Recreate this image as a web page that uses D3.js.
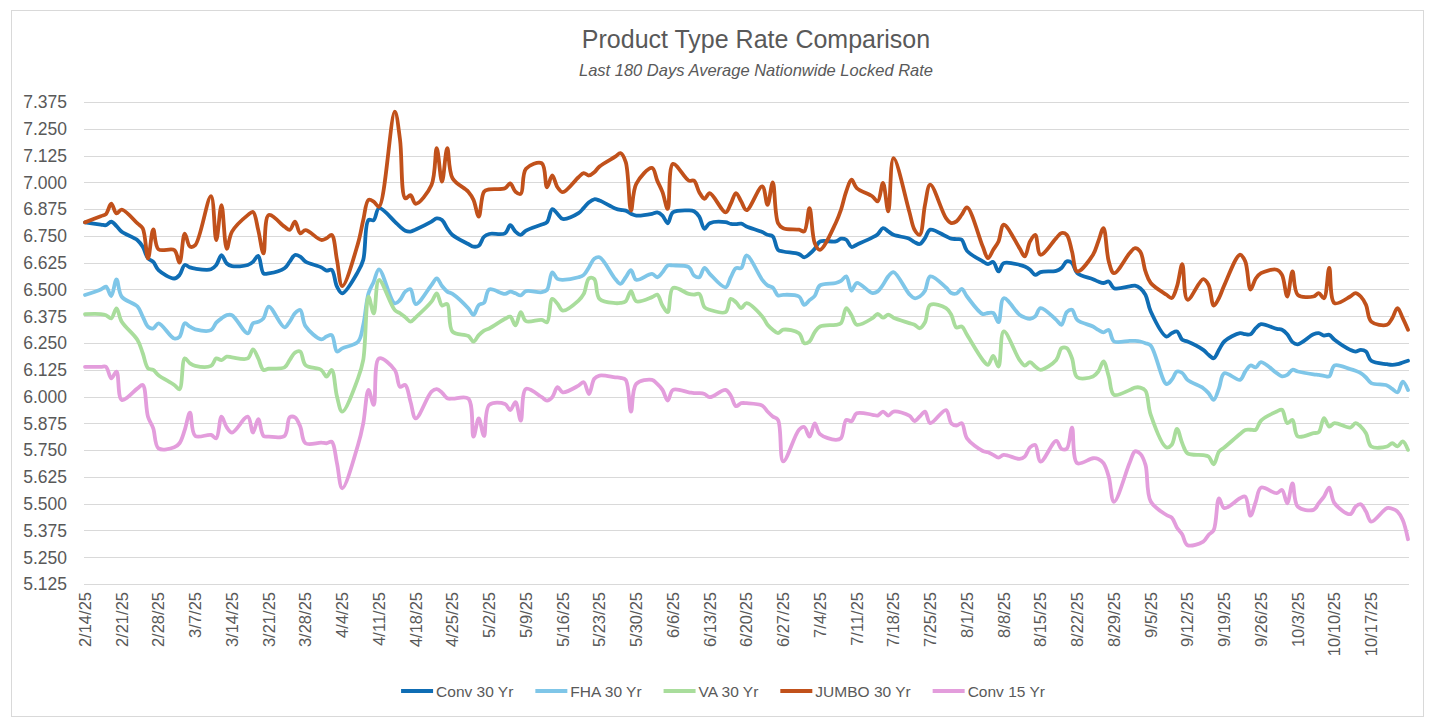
<!DOCTYPE html>
<html lang="en">
<head>
<meta charset="UTF-8">
<title>Product Type Rate Comparison</title>
<script src="https://d3js.org/d3.v7.min.js"></script>
<style>
  body { margin: 0; background: #fff; }
  text { font-family: "Liberation Sans", Arial, sans-serif; fill: #595959; }
</style>
</head>
<body>
<div id="chart"></div>
<script>
// Date range of the daily (business day) series
const firstDay = "2025-02-14";
const lastDay = "2025-10-24";

// Weekly axis labels
const xTickLabels = ["2/14/25", "2/21/25", "2/28/25", "3/7/25", "3/14/25", "3/21/25", "3/28/25",
  "4/4/25", "4/11/25", "4/18/25", "4/25/25", "5/2/25", "5/9/25", "5/16/25", "5/23/25", "5/30/25",
  "6/6/25", "6/13/25", "6/20/25", "6/27/25", "7/4/25", "7/11/25", "7/18/25", "7/25/25", "8/1/25",
  "8/8/25", "8/15/25", "8/22/25", "8/29/25", "9/5/25", "9/12/25", "9/19/25", "9/26/25", "10/3/25",
  "10/10/25", "10/17/25"];

const yTicks = [5.125, 5.25, 5.375, 5.5, 5.625, 5.75, 5.875, 6.0, 6.125, 6.25, 6.375,
  6.5, 6.625, 6.75, 6.875, 7.0, 7.125, 7.25, 7.375];

const seriesNames = ["Conv 30 Yr", "FHA 30 Yr", "VA 30 Yr", "JUMBO 30 Yr", "Conv 15 Yr"];
const seriesColors = ["#0f6db4", "#7fc6e8", "#a9dd9c", "#c1511b", "#e39ddc"];

// One value per business day, 2/14 then Mon..Fri for each week
const conv30 = [6.813,
  6.803, 6.800, 6.816, 6.796, 6.769,
  6.730, 6.699, 6.645, 6.629, 6.590,
  6.551, 6.567, 6.614, 6.603, 6.597,
  6.594, 6.614, 6.660, 6.621, 6.609,
  6.614, 6.629, 6.657, 6.575, 6.575,
  6.599, 6.630, 6.661, 6.653, 6.630,
  6.603, 6.588, 6.591, 6.513, 6.482,
  6.583, 6.638, 6.824, 6.824, 6.879,
  6.817, 6.793, 6.774, 6.770, 6.780,
  6.817, 6.832, 6.824, 6.785, 6.754,
  6.712, 6.700, 6.704, 6.746, 6.759,
  6.762, 6.800, 6.770, 6.755, 6.775,
  6.803, 6.814, 6.875, 6.853, 6.829,
  6.856, 6.881, 6.907, 6.921, 6.915,
  6.878, 6.871, 6.868, 6.853, 6.845,
  6.853, 6.860, 6.845, 6.809, 6.860,
  6.869, 6.865, 6.840, 6.783, 6.809,
  6.814, 6.806, 6.805, 6.807, 6.794,
  6.768, 6.755, 6.748, 6.685, 6.677,
  6.665, 6.650, 6.665, 6.690, 6.724,
  6.724, 6.737, 6.732, 6.698, 6.709,
  6.743, 6.758, 6.786, 6.771, 6.755,
  6.737, 6.721, 6.712, 6.740, 6.779,
  6.748, 6.737, 6.735, 6.732, 6.680,
  6.631, 6.618, 6.628, 6.584, 6.623,
  6.615, 6.607, 6.592, 6.568, 6.581,
  6.587, 6.600, 6.631, 6.623, 6.576,
  6.548, 6.537, 6.530, 6.537, 6.506,
  6.514, 6.518, 6.506, 6.475, 6.397,
  6.280, 6.296, 6.304, 6.265, 6.257,
  6.218, 6.195, 6.179, 6.218, 6.257,
  6.296, 6.291, 6.291, 6.319, 6.338,
  6.316, 6.312, 6.291, 6.254, 6.244,
  6.291, 6.296, 6.285, 6.288, 6.265,
  6.218, 6.210, 6.218, 6.210, 6.167,
  6.151, 6.148, 6.151, 6.159, 6.167];

const fha30 = [6.474,
  6.500, 6.513, 6.469, 6.547, 6.466,
  6.420, 6.373, 6.326, 6.318, 6.342,
  6.271, 6.279, 6.342, 6.326, 6.314,
  6.310, 6.345, 6.365, 6.380, 6.380,
  6.295, 6.342, 6.349, 6.365, 6.420,
  6.323, 6.350, 6.389, 6.404, 6.329,
  6.267, 6.280, 6.287, 6.210, 6.225,
  6.256, 6.334, 6.482, 6.536, 6.594,
  6.435, 6.451, 6.490, 6.501, 6.432,
  6.521, 6.552, 6.516, 6.490, 6.479,
  6.412, 6.381, 6.427, 6.438, 6.500,
  6.479, 6.490, 6.482, 6.472, 6.492,
  6.487, 6.498, 6.580, 6.549, 6.545,
  6.557, 6.568, 6.604, 6.643, 6.650,
  6.549, 6.526, 6.557, 6.590, 6.545,
  6.573, 6.557, 6.580, 6.612, 6.612,
  6.604, 6.565, 6.557, 6.601, 6.573,
  6.510, 6.557, 6.600, 6.600, 6.659,
  6.545, 6.519, 6.509, 6.472, 6.475,
  6.467, 6.428, 6.450, 6.470, 6.519,
  6.530, 6.540, 6.561, 6.494, 6.530,
  6.483, 6.491, 6.522, 6.561, 6.581,
  6.478, 6.459, 6.467, 6.494, 6.561,
  6.509, 6.483, 6.481, 6.503, 6.467,
  6.385, 6.390, 6.390, 6.347, 6.459,
  6.382, 6.369, 6.363, 6.374, 6.413,
  6.358, 6.335, 6.394, 6.405, 6.358,
  6.327, 6.311, 6.300, 6.311, 6.257,
  6.260, 6.260, 6.257, 6.249, 6.238,
  6.058, 6.078, 6.117, 6.110, 6.078,
  6.039, 6.016, 5.985, 6.039, 6.109,
  6.078, 6.117, 6.145, 6.136, 6.161,
  6.109, 6.094, 6.101, 6.125, 6.117,
  6.104, 6.101, 6.097, 6.094, 6.145,
  6.128, 6.120, 6.109, 6.089, 6.063,
  6.052, 6.036, 6.020, 6.070, 6.031];

const va30 = [6.385,
  6.385, 6.380, 6.365, 6.412, 6.349,
  6.264, 6.202, 6.132, 6.124, 6.100,
  6.054, 6.034, 6.178, 6.155, 6.143,
  6.143, 6.178, 6.170, 6.186, 6.183,
  6.178, 6.220, 6.178, 6.124, 6.130,
  6.136, 6.171, 6.205, 6.210, 6.147,
  6.124, 6.093, 6.124, 6.000, 5.930,
  6.085, 6.171, 6.466, 6.388, 6.544,
  6.404, 6.389, 6.370, 6.350, 6.370,
  6.443, 6.482, 6.425, 6.432, 6.303,
  6.283, 6.256, 6.287, 6.308, 6.318,
  6.363, 6.373, 6.332, 6.394, 6.352,
  6.358, 6.347, 6.456, 6.433, 6.401,
  6.448, 6.479, 6.552, 6.549, 6.456,
  6.436, 6.437, 6.445, 6.492, 6.445,
  6.464, 6.476, 6.425, 6.394, 6.507,
  6.479, 6.476, 6.479, 6.417, 6.405,
  6.394, 6.456, 6.440, 6.413, 6.436,
  6.374, 6.335, 6.312, 6.296, 6.312,
  6.296, 6.249, 6.257, 6.301, 6.327,
  6.335, 6.343, 6.413, 6.380, 6.335,
  6.366, 6.386, 6.368, 6.382, 6.368,
  6.343, 6.335, 6.319, 6.347, 6.428,
  6.413, 6.382, 6.322, 6.327, 6.288,
  6.171, 6.148, 6.190, 6.140, 6.304,
  6.171, 6.145, 6.161, 6.140, 6.125,
  6.171, 6.226, 6.226, 6.179, 6.090,
  6.094, 6.117, 6.164, 6.094, 6.008,
  6.031, 6.042, 6.042, 6.027, 5.914,
  5.762, 5.775, 5.849, 5.782, 5.735,
  5.727, 5.720, 5.684, 5.743, 5.762,
  5.825, 5.844, 5.845, 5.845, 5.888,
  5.930, 5.938, 5.876, 5.891, 5.814,
  5.829, 5.834, 5.899, 5.860, 5.876,
  5.855, 5.876, 5.860, 5.829, 5.767,
  5.767, 5.782, 5.767, 5.791, 5.751];

const jumbo30 = [6.813,
  6.842, 6.852, 6.900, 6.855, 6.873,
  6.808, 6.785, 6.645, 6.780, 6.687,
  6.684, 6.625, 6.760, 6.700, 6.707,
  6.936, 6.730, 6.894, 6.690, 6.770,
  6.847, 6.862, 6.777, 6.668, 6.847,
  6.793, 6.778, 6.817, 6.762, 6.777,
  6.731, 6.739, 6.754, 6.637, 6.516,
  6.715, 6.824, 6.918, 6.910, 6.886,
  7.330, 7.200, 6.925, 6.940, 6.900,
  6.988, 7.159, 7.003, 7.159, 7.019,
  6.956, 6.918, 6.840, 6.956, 6.967,
  6.972, 6.995, 6.956, 6.946, 7.063,
  7.089, 6.977, 7.032, 6.977, 6.954,
  7.024, 7.043, 7.032, 7.047, 7.074,
  7.120, 7.136, 7.094, 6.868, 6.993,
  7.067, 7.008, 6.954, 6.876, 7.086,
  7.008, 7.008, 6.954, 6.923, 6.949,
  6.860, 6.900, 6.950, 6.910, 6.870,
  6.981, 6.895, 7.000, 6.810, 6.786,
  6.779, 6.771, 6.880, 6.716, 6.685,
  6.810, 6.872, 6.958, 7.012, 6.973,
  6.934, 6.911, 6.997, 6.864, 7.113,
  6.864, 6.779, 6.755, 6.895, 6.989,
  6.833, 6.810, 6.818, 6.849, 6.883,
  6.700, 6.646, 6.685, 6.724, 6.802,
  6.693, 6.654, 6.724, 6.755, 6.662,
  6.740, 6.763, 6.755, 6.677, 6.584,
  6.662, 6.724, 6.786, 6.631, 6.576,
  6.670, 6.693, 6.677, 6.584, 6.530,
  6.475, 6.460, 6.514, 6.618, 6.452,
  6.548, 6.522, 6.425, 6.460, 6.519,
  6.662, 6.631, 6.499, 6.551, 6.576,
  6.592, 6.568, 6.467, 6.584, 6.475,
  6.467, 6.483, 6.459, 6.600, 6.436,
  6.467, 6.483, 6.467, 6.428, 6.350,
  6.335, 6.366, 6.413, 6.366, 6.312];

const conv15 = [6.139,
  6.139, 6.139, 6.085, 6.116, 5.984,
  6.038, 6.054, 5.906, 5.852, 5.758,
  5.763, 5.782, 5.844, 5.925, 5.816,
  5.821, 5.805, 5.906, 5.856, 5.832,
  5.906, 5.832, 5.894, 5.816, 5.813,
  5.816, 5.903, 5.903, 5.860, 5.782,
  5.785, 5.782, 5.789, 5.688, 5.572,
  5.774, 5.875, 6.031, 5.961, 6.178,
  6.124, 6.046, 6.054, 5.976, 5.898,
  6.023, 6.035, 6.018, 5.992, 5.990,
  5.991, 5.813, 5.898, 5.816, 5.961,
  5.965, 5.937, 5.974, 5.888, 6.036,
  5.997, 5.981, 5.997, 6.044, 6.020,
  6.051, 6.067, 6.012, 6.083, 6.098,
  6.090, 6.087, 6.078, 5.930, 6.059,
  6.078, 6.059, 6.031, 5.981, 6.031,
  6.020, 6.016, 6.016, 6.012, 5.997,
  6.031, 6.005, 5.955, 5.969, 5.969,
  5.958, 5.930, 5.907, 5.891, 5.697,
  5.845, 5.858, 5.813, 5.875, 5.825,
  5.798, 5.806, 5.891, 5.885, 5.922,
  5.915, 5.911, 5.930, 5.911, 5.930,
  5.911, 5.886, 5.907, 5.930, 5.876,
  5.937, 5.875, 5.865, 5.876, 5.805,
  5.746, 5.740, 5.728, 5.715, 5.728,
  5.709, 5.720, 5.763, 5.774, 5.696,
  5.793, 5.756, 5.756, 5.855, 5.689,
  5.712, 5.709, 5.689, 5.626, 5.509,
  5.692, 5.744, 5.733, 5.681, 5.510,
  5.447, 5.435, 5.388, 5.356, 5.306,
  5.323, 5.354, 5.377, 5.525, 5.479,
  5.525, 5.533, 5.444, 5.509, 5.575,
  5.549, 5.564, 5.502, 5.595, 5.486,
  5.471, 5.502, 5.533, 5.575, 5.502,
  5.451, 5.486, 5.497, 5.463, 5.416,
  5.479, 5.476, 5.463, 5.424, 5.334];

const seriesValues = [conv30, fha30, va30, jumbo30, conv15];

// Business days in the range
const parseISO = d3.timeParse("%Y-%m-%d");
const parseTick = d3.timeParse("%m/%d/%y");
const days = d3.timeDay.range(parseISO(firstDay), d3.timeDay.offset(parseISO(lastDay), 1))
  .filter(d => d.getDay() !== 0 && d.getDay() !== 6);

seriesValues.forEach((s, i) => {
  if (s.length !== days.length) console.log(seriesNames[i], s.length, days.length);
});

const width = 1432, height = 723;

const svg = d3.select("#chart").append("svg")
  .attr("width", width)
  .attr("height", height);

// Chart border
svg.append("rect")
  .attr("x", 11.5).attr("y", 10.5)
  .attr("width", 1412).attr("height", 706)
  .attr("fill", "#fff")
  .attr("stroke", "#d9d9d9");

// Scales
const x = d3.scaleTime()
  .domain([parseISO(firstDay), parseISO(lastDay)])
  .range([85, 1408]);

const y = d3.scaleLinear()
  .domain([5.125, 7.375])
  .range([584, 102]);

// Gridlines
svg.append("g")
  .selectAll("line")
  .data(yTicks)
  .enter().append("line")
    .attr("x1", 84)
    .attr("x2", 1409)
    .attr("y1", d => Math.round(y(d)) + 0.5)
    .attr("y2", d => Math.round(y(d)) + 0.5)
    .attr("stroke", "#d9d9d9")
    .attr("stroke-width", 1);

// Y axis labels
svg.append("g")
  .selectAll("text")
  .data(yTicks)
  .enter().append("text")
    .attr("x", 67)
    .attr("y", d => y(d))
    .attr("dy", "0.36em")
    .attr("text-anchor", "end")
    .style("font-size", "17.5px")
    .text(d => d3.format(".3f")(d));

// X axis labels (rotated)
svg.append("g")
  .selectAll("text")
  .data(xTickLabels)
  .enter().append("text")
    .attr("transform", d => `translate(${x(parseTick(d))},592) rotate(-90)`)
    .attr("dy", "0.36em")
    .attr("text-anchor", "end")
    .style("font-size", "16.5px")
    .text(d => d);

// Lines
const line = d3.line()
  .x((d, i) => x(days[i]))
  .y(d => y(d))
  .curve(d3.curveCatmullRom.alpha(0.5));

svg.append("g")
  .selectAll("path")
  .data(seriesValues)
  .enter().append("path")
    .attr("d", d => line(d))
    .attr("fill", "none")
    .attr("stroke", (d, i) => seriesColors[i])
    .attr("stroke-width", 3.8)
    .attr("stroke-linejoin", "round")
    .attr("stroke-linecap", "round");

// Title
svg.append("text")
  .attr("x", 756)
  .attr("y", 48)
  .attr("text-anchor", "middle")
  .style("font-size", "25px")
  .text("Product Type Rate Comparison");

svg.append("text")
  .attr("x", 756)
  .attr("y", 76)
  .attr("text-anchor", "middle")
  .style("font-size", "16.5px")
  .style("font-style", "italic")
  .text("Last 180 Days Average Nationwide Locked Rate");

// Legend
const legend = svg.append("g");
const swatch = 32, gap = 3, spacing = 22;
let cursor = 0;
seriesNames.forEach((name, i) => {
  const item = legend.append("g").attr("transform", `translate(${cursor},0)`);
  item.append("line")
    .attr("x1", 0).attr("x2", swatch)
    .attr("y1", 0).attr("y2", 0)
    .attr("stroke", seriesColors[i])
    .attr("stroke-width", 4);
  const t = item.append("text")
    .attr("x", swatch + gap)
    .attr("dy", "0.36em")
    .style("font-size", "15.5px")
    .text(name);
  cursor += swatch + gap + t.node().getComputedTextLength() + spacing;
});
const legendWidth = cursor - spacing;
legend.attr("transform", `translate(${723 - legendWidth / 2},691)`);
</script>
</body>
</html>
